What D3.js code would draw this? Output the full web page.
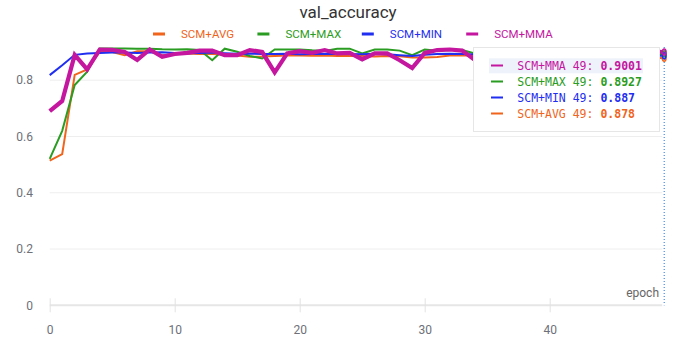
<!DOCTYPE html>
<html>
<head>
<meta charset="utf-8">
<script src="https://cdn.jsdelivr.net/npm/d3@7/dist/d3.min.js"></script>
<style>
  html, body { margin: 0; padding: 0; background: #fff; }
  svg { display: block; font-family: Roboto, "Noto Sans", sans-serif; }
  .mono { font-family: "DejaVu Sans Mono", monospace; }
</style>
</head>
<body>
<div id="chart"></div>
<script>
// val_accuracy per epoch
const epochs = d3.range(0, 50);

const seriesNames = ['SCM+AVG', 'SCM+MAX', 'SCM+MIN', 'SCM+MMA'];
const seriesColors = ['#f0641c', '#2b9c22', '#1f2ef0', '#c4169f'];

const avgValues = [0.514, 0.537, 0.819, 0.838, 0.900, 0.900, 0.889, 0.903, 0.903, 0.889,
  0.892, 0.895, 0.893, 0.893, 0.891, 0.888, 0.883, 0.884, 0.886, 0.888,
  0.888, 0.887, 0.888, 0.886, 0.886, 0.886, 0.884, 0.886, 0.885, 0.881,
  0.881, 0.882, 0.888, 0.889, 0.888, 0.885, 0.882, 0.887, 0.884, 0.880,
  0.886, 0.883, 0.881, 0.885, 0.879, 0.884, 0.882, 0.880, 0.883, 0.878];

const maxValues = [0.520, 0.620, 0.783, 0.830, 0.913, 0.913, 0.913, 0.912, 0.912, 0.910,
  0.909, 0.910, 0.907, 0.871, 0.912, 0.901, 0.886, 0.877, 0.909, 0.909,
  0.909, 0.906, 0.904, 0.912, 0.912, 0.895, 0.909, 0.909, 0.905, 0.889,
  0.909, 0.905, 0.907, 0.907, 0.895, 0.903, 0.897, 0.906, 0.899, 0.894,
  0.902, 0.896, 0.900, 0.893, 0.898, 0.901, 0.895, 0.897, 0.894, 0.8927];

const minValues = [0.818, 0.853, 0.890, 0.895, 0.897, 0.898, 0.898, 0.897, 0.898, 0.899,
  0.897, 0.896, 0.897, 0.898, 0.896, 0.894, 0.895, 0.893, 0.893, 0.894,
  0.892, 0.893, 0.894, 0.893, 0.893, 0.892, 0.894, 0.892, 0.889, 0.886,
  0.890, 0.893, 0.894, 0.893, 0.891, 0.892, 0.890, 0.891, 0.889, 0.890,
  0.888, 0.890, 0.889, 0.887, 0.889, 0.888, 0.886, 0.888, 0.887, 0.887];

const mmaValues = [0.690, 0.726, 0.890, 0.838, 0.909, 0.908, 0.900, 0.872, 0.909, 0.883,
  0.893, 0.897, 0.905, 0.905, 0.889, 0.889, 0.907, 0.900, 0.828, 0.895,
  0.903, 0.897, 0.907, 0.895, 0.897, 0.874, 0.895, 0.895, 0.871, 0.843,
  0.897, 0.907, 0.909, 0.905, 0.872, 0.893, 0.901, 0.888, 0.897, 0.905,
  0.890, 0.899, 0.884, 0.902, 0.895, 0.906, 0.892, 0.898, 0.903, 0.9001];

const yTicks = [0, 0.2, 0.4, 0.6, 0.8];
const xTicks = [0, 10, 20, 30, 40];

// tooltip rows, in the order shown (hovered series first)
const tooltipOrder = [3, 1, 2, 0];
const tooltipLabels = ['0.878', '0.8927', '0.887', '0.9001'];
const hoverEpoch = 49;

const W = 692, H = 345;
const PLOT = { left: 49.7, right: 662.2, top: 45, bottom: 305.3 };

const allValues = [avgValues, maxValues, minValues, mmaValues];

const svg = d3.select('#chart').append('svg')
  .attr('width', W)
  .attr('height', H);

const x = d3.scaleLinear().domain([0, 49]).range([PLOT.left, PLOT.right]);
const y = d3.scaleLinear().domain([0, 0.925]).range([PLOT.bottom, PLOT.top]);

// Title
svg.append('text')
  .attr('x', 348).attr('y', 18)
  .attr('text-anchor', 'middle')
  .style('font-size', '17px')
  .style('fill', '#333')
  .text('val_accuracy');

// Legend
const legend = svg.append('g');
seriesNames.forEach((name, i) => {
  const lx = 153 + i * 104.4;
  legend.append('rect')
    .attr('x', lx).attr('y', 32.5)
    .attr('width', 12).attr('height', 3)
    .attr('fill', seriesColors[i]);
  legend.append('text')
    .attr('x', lx + 28).attr('y', 38)
    .style('font-size', '11.5px')
    .style('fill', seriesColors[i])
    .text(name);
});

// Grid
svg.append('g')
  .selectAll('line')
  .data(yTicks.filter(t => t > 0))
  .join('line')
    .attr('x1', PLOT.left).attr('x2', PLOT.right)
    .attr('y1', d => y(d)).attr('y2', d => y(d))
    .attr('stroke', '#eeeeee')
    .attr('stroke-width', 1);

// Y labels
svg.append('g')
  .selectAll('text')
  .data(yTicks)
  .join('text')
    .attr('x', 33)
    .attr('y', d => y(d))
    .attr('dy', '0.35em')
    .attr('text-anchor', 'end')
    .style('font-size', '12px')
    .style('fill', '#6e7079')
    .text(d => d === 0 ? '0' : d.toFixed(1));

// X axis
const xAxis = svg.append('g')
  .attr('transform', `translate(0,${PLOT.bottom})`)
  .call(d3.axisBottom(x).tickValues(xTicks).tickSize(8).tickFormat(d3.format('d')));
xAxis.select('.domain').remove();
xAxis.insert('line', ':first-child')
  .attr('x1', PLOT.left).attr('x2', PLOT.right)
  .attr('stroke', '#e6e6e6')
  .attr('stroke-width', 2);
xAxis.selectAll('.tick line')
  .attr('y1', -7).attr('y2', 7)
  .attr('stroke', '#e3e3e3');
xAxis.selectAll('.tick text')
  .attr('y', 20)
  .style('font-size', '12px')
  .style('font-family', 'Roboto, sans-serif')
  .style('fill', '#6e7079');

svg.append('text')
  .attr('x', 659).attr('y', 297)
  .attr('text-anchor', 'end')
  .style('font-size', '12px')
  .style('fill', '#666')
  .text('epoch');

// Lines
const line = d3.line()
  .x((d, i) => x(epochs[i]))
  .y(d => y(d));

allValues.forEach((vals, i) => {
  svg.append('path')
    .datum(vals)
    .attr('fill', 'none')
    .attr('stroke', seriesColors[i])
    .attr('stroke-width', i === 3 ? 4.2 : 2)
    .attr('stroke-linejoin', 'miter')
    .attr('d', line);
});

// hover guide and points
svg.append('line')
  .attr('x1', x(hoverEpoch) + 2).attr('x2', x(hoverEpoch) + 2)
  .attr('y1', 47).attr('y2', PLOT.bottom)
  .attr('stroke', '#1a73e8')
  .attr('stroke-width', 1)
  .attr('stroke-dasharray', '1,2');

allValues.forEach((vals, i) => {
  svg.append('ellipse')
    .attr('cx', x(hoverEpoch) + 2)
    .attr('cy', y(vals[hoverEpoch]))
    .attr('rx', 1.8).attr('ry', 3)
    .attr('fill', 'none')
    .attr('stroke', seriesColors[i])
    .attr('stroke-width', 1.5);
});

// Tooltip
const tip = svg.append('g');
tip.append('rect')
  .attr('x', 473.5).attr('y', 47.5)
  .attr('width', 186).attr('height', 84)
  .attr('fill', '#fff')
  .attr('stroke', '#e6e6e6');
tip.append('rect')
  .attr('x', 489).attr('y', 58.3)
  .attr('width', 154).attr('height', 15)
  .attr('fill', '#eef2fa');

tooltipOrder.forEach((si, r) => {
  const ry = 65.5 + r * 16;
  tip.append('rect')
    .attr('x', 491).attr('y', ry - 1)
    .attr('width', 12).attr('height', 2)
    .attr('fill', seriesColors[si]);
  const t = tip.append('text')
    .attr('class', 'mono')
    .attr('x', 517.3).attr('y', ry)
    .attr('dy', '0.36em')
    .style('font-size', '11.5px')
    .style('fill', seriesColors[si]);
  t.append('tspan').text(`${seriesNames[si]} ${hoverEpoch}: `);
  t.append('tspan').style('font-weight', 'bold').text(tooltipLabels[si]);
});
</script>
</body>
</html>
